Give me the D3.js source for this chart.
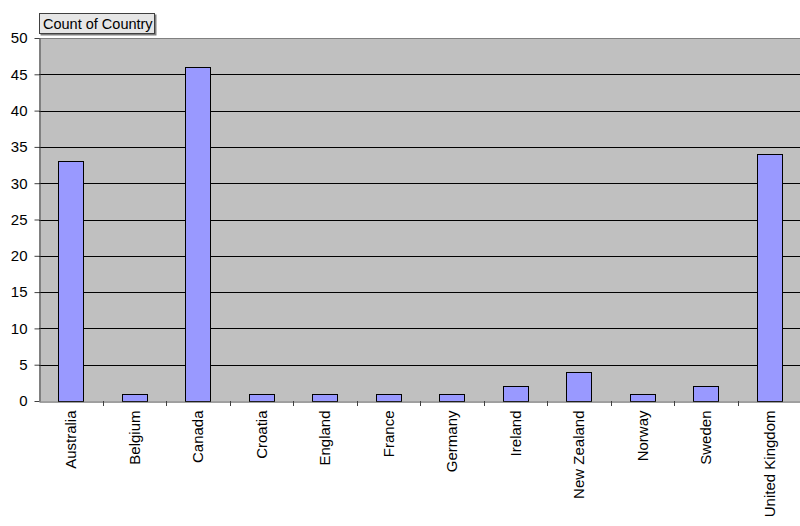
<!DOCTYPE html>
<html><head><meta charset="utf-8">
<script src="https://cdn.jsdelivr.net/npm/d3@7"></script>
<style>body{margin:0;background:#fff}svg{display:block}</style>
</head><body>
<svg id="c" width="800" height="526"></svg>
<script>
const categories = ["Australia","Belgium","Canada","Croatia","England","France","Germany","Ireland","New Zealand","Norway","Sweden","United Kingdom"];
const counts = [33,1,46,1,1,1,1,2,4,1,2,34];
const yTicks = [0,5,10,15,20,25,30,35,40,45,50];
const title = "Count of Country";

const svg = d3.select("#c");
const L = 39, R = 801, T = 38, B = 401;
const x = d3.scaleBand().domain(categories).range([L, R]).paddingInner(0).paddingOuter(0);
const y = d3.scaleLinear().domain([0, 50]).range([B, T]);
const font = "'Liberation Sans', Arial, sans-serif";

svg.append("rect").attr("x", L).attr("y", T).attr("width", R - L).attr("height", B - T).attr("fill", "#C0C0C0");

// gridlines
svg.append("g").selectAll("line").data(yTicks.filter(d => d > 0 && d < 50)).join("line")
  .attr("x1", L).attr("x2", R).attr("y1", d => Math.round(y(d)) + 0.5).attr("y2", d => Math.round(y(d)) + 0.5)
  .attr("stroke", "#000").attr("stroke-width", 1);
svg.append("line").attr("x1", L).attr("x2", R).attr("y1", T + 0.5).attr("y2", T + 0.5).attr("stroke", "#808080");

// bars
const bw = x.bandwidth() * 0.39;
svg.append("g").selectAll("rect").data(categories).join("rect")
  .attr("x", d => Math.round(x(d) + (x.bandwidth() - bw) / 2) + 0.5)
  .attr("y", (d, i) => Math.round(y(counts[i])) + 0.5)
  .attr("width", Math.round(bw))
  .attr("height", (d, i) => Math.round(B - y(counts[i])))
  .attr("fill", "#9999FF").attr("stroke", "#000").attr("stroke-width", 1);

// y axis
const ya = svg.append("g").attr("transform", `translate(${L + 0.5},0)`)
  .call(d3.axisLeft(y).tickValues(yTicks).tickSize(5).tickSizeOuter(0).tickPadding(7));
ya.select(".domain").attr("stroke", "#404040");
ya.selectAll(".tick line").attr("stroke", "#404040");
ya.selectAll("text").attr("font-family", font).attr("font-size", 15).attr("fill", "#000");

// x axis
const xa = svg.append("g").attr("transform", `translate(0,${B + 0.5})`)
  .call(d3.axisBottom(x).tickSize(0).tickSizeOuter(0));
xa.select(".domain").attr("stroke", "#404040");
xa.selectAll(".tick line").remove();
xa.selectAll("text").attr("font-family", font).attr("font-size", 15).attr("fill", "#000")
  .attr("transform", "rotate(-90)").attr("text-anchor", "end")
  .attr("x", -9).attr("y", 0).attr("dy", "0.35em");
// category separators ticks
svg.append("g").selectAll("line").data(categories.slice(1)).join("line")
  .attr("x1", d => Math.round(x(d)) + 0.5).attr("x2", d => Math.round(x(d)) + 0.5)
  .attr("y1", B).attr("y2", B + 5).attr("stroke", "#404040");

// title box
const tb = svg.append("g");
tb.append("rect").attr("x", 40.5).attr("y", 14.5).attr("width", 116).attr("height", 21).attr("fill", "#808080");
tb.append("rect").attr("x", 39.5).attr("y", 13.5).attr("width", 115).attr("height", 20)
  .attr("fill", "#E6E6E6").attr("stroke", "#404040");
tb.append("text").attr("x", 43).attr("y", 29).attr("font-family", font).attr("font-size", 14.5).text(title);
</script>
</body></html>
